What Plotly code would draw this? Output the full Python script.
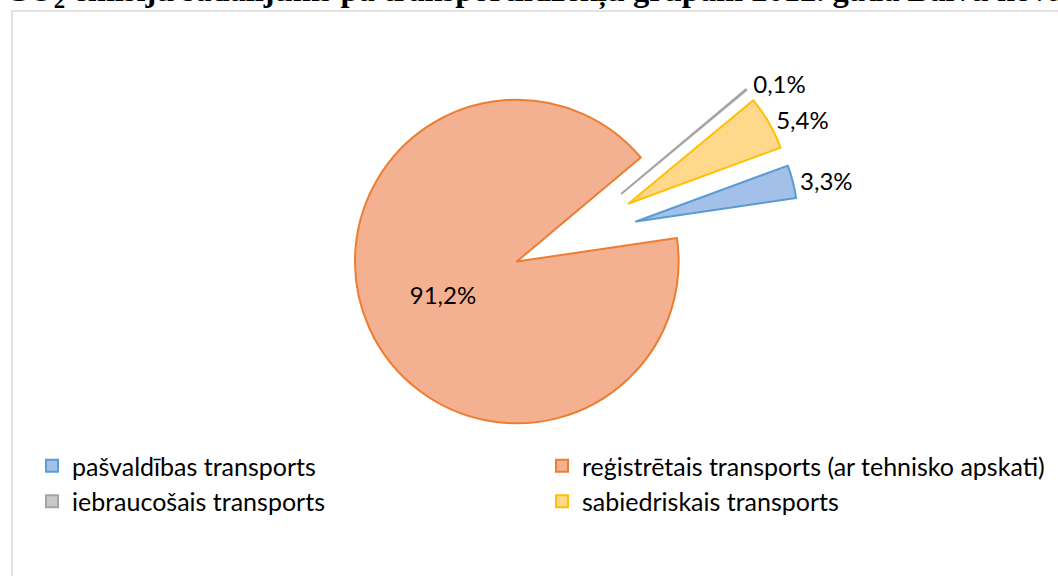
import plotly.graph_objects as go

title_text = "CO<sub>2</sub> emisiju sadalījums pa transportlīdzekļu grupām 2012. gadā Balvu novadā"
labels = ["pašvaldības transports", "reģistrētais transports (ar tehnisko apskati)",
          "iebraucošais transports", "sabiedriskais transports"]
values = [3.3, 91.2, 0.1, 5.4]
pulls = [0.44, 0.34, 0.44, 0.44]
fill_colors = ["#A2C0E8", "#F4B192", "#C9C9C9", "#FFD88C"]
line_colors = ["#5B9BD5", "#ED7D31", "#A5A5A5", "#FFC000"]
text_pos = ["outside", "inside", "outside", "outside"]

W, H = 1058, 576
cx, cy, half = 567, 239, 233  # pixels

fig = go.Figure(go.Pie(
    labels=labels,
    values=values,
    sort=False,
    direction="clockwise",
    rotation=69.8,
    pull=pulls,
    marker=dict(colors=fill_colors, line=dict(color=line_colors, width=2)),
    texttemplate="%{percent:.1%}",
    textposition=text_pos,
    insidetextorientation="horizontal",
    textfont=dict(family="Lato", size=24, color="#000000"),
    hoverinfo="skip",
    domain=dict(x=[(cx - half) / W, (cx + half) / W],
                y=[1 - (cy + half) / H, 1 - (cy - half) / H]),
))

fig.add_annotation(
    text="<b>" + title_text + "</b>",
    xref="paper", yref="paper", x=3 / W, y=1 - 15 / H,
    xanchor="left", yanchor="bottom", showarrow=False,
    font=dict(family="Liberation Serif", size=32.5, color="#000000"),
)

fig.add_shape(type="rect", xref="paper", yref="paper",
              x0=12 / W, x1=1.2, y0=-0.2, y1=1 - 11 / H,
              line=dict(color="#D9D9D9", width=1.5), fillcolor="rgba(0,0,0,0)", layer="below")

fig.update_layout(
    width=W, height=H,
    margin=dict(l=0, r=0, t=0, b=0, autoexpand=False),
    paper_bgcolor="#FFFFFF",
    separators=",.",
    showlegend=True,
    legend=dict(orientation="h", x=32 / W, y=1 - 443 / H, xanchor="left", yanchor="top",
                entrywidth=465, entrywidthmode="pixels",
                font=dict(family="Lato", size=25, color="#000000"),
                itemclick=False, itemdoubleclick=False),
)

fig.write_html("out.html", config={"displayModeBar": False},
               post_script="document.body.style.margin='0';")
